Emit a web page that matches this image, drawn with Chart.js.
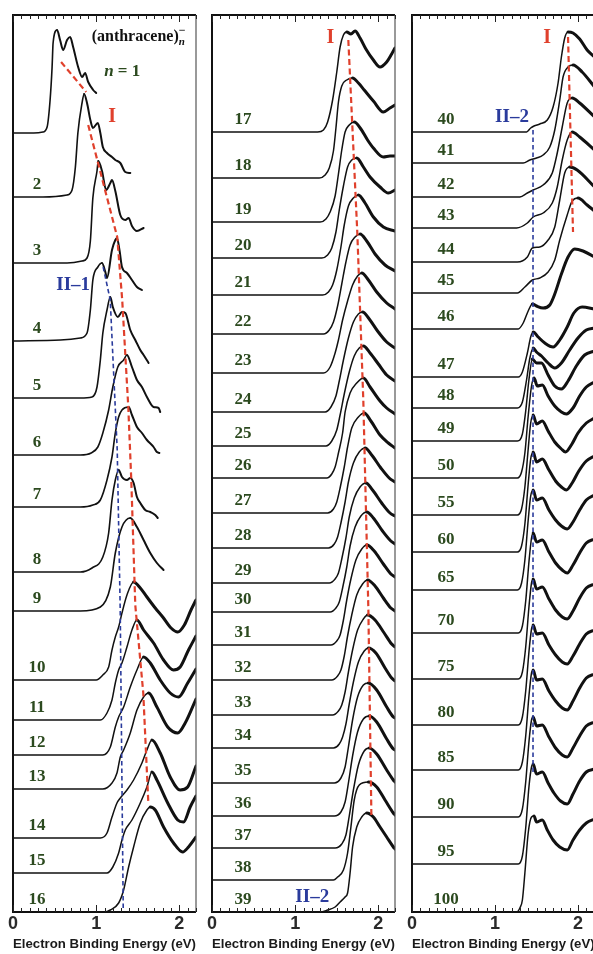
<!DOCTYPE html>
<html>
<head>
<meta charset="utf-8">
<script src="https://cdn.jsdelivr.net/npm/chart.js@4.4.1/dist/chart.umd.min.js"></script>
<style>
  html, body { margin: 0; padding: 0; background: #fff; overflow: hidden; width: 593px; height: 954px; }
  #wrap { position: relative; width: 593px; height: 954px; overflow: hidden; }
  canvas { position: absolute; top: 0; }
</style>
</head>
<body>
<div id="wrap">
  <canvas id="panelA" width="200" height="954" style="left:0px"></canvas>
  <canvas id="panelB" width="200" height="954" style="left:200px"></canvas>
  <canvas id="panelC" width="200" height="954" style="left:400px"></canvas>
</div>
<script>
// ---------------------------------------------------------------
// Photoelectron spectra of (anthracene)n- clusters.
// Each spectrum: [binding energy (eV), intensity (% of band maximum)].
// Spectra are stacked: offsets are the baseline of each trace.
// ---------------------------------------------------------------
const xTicks = [0, 1, 2];

// ---- panel A : n = 1 ... 16 ----
const sizesA = [1, 2, 3, 4, 5, 6, 7, 8, 9, 10, 11, 12, 13, 14, 15, 16];
const offsetsA = [779, 715, 649, 571, 514, 457, 405, 340, 301, 232, 192, 157, 123, 74, 39, 0];
const spectraA = [
  [[0,0],[0.25,0],[0.36,1],[0.41,6],[0.446,33],[0.47,66],[0.482,90],[0.53,103],[0.566,93],[0.602,83],[0.65,93],[0.687,96],[0.723,86],[0.783,66],[0.831,56],[0.867,60],[0.904,51],[0.964,43],[1.0,40]],
  [[0,0],[0.36,0],[0.65,2],[0.71,7],[0.75,30],[0.78,64],[0.83,94],[0.855,103],[0.89,94],[0.93,77],[0.96,69],[1.02,74],[1.05,64],[1.08,50],[1.13,44],[1.19,40],[1.23,37],[1.29,34],[1.35,25],[1.41,24]],
  [[0,0],[0.65,0],[0.83,2],[0.89,5],[0.93,22],[0.96,65],[1.01,92],[1.025,102],[1.07,92],[1.12,73],[1.17,80],[1.19,83],[1.23,72],[1.29,48],[1.35,43],[1.39,45],[1.43,37],[1.49,32],[1.57,35]],
  [[0,0],[0.57,1],[0.81,3],[0.89,8],[0.93,31],[0.96,61],[1.02,74],[1.07,78],[1.11,69],[1.13,63],[1.19,91],[1.23,101],[1.25,103],[1.28,91],[1.31,74],[1.37,68],[1.43,61],[1.49,54],[1.55,51]],
  [[0,0],[0.81,0],[0.95,1],[1.01,11],[1.05,38],[1.08,65],[1.13,88],[1.17,101],[1.2,91],[1.26,81],[1.31,86],[1.35,85],[1.41,68],[1.47,58],[1.53,48],[1.57,43],[1.63,35]],
  [[0,0],[0.81,0],[0.94,2],[1.02,8],[1.08,22],[1.15,45],[1.2,68],[1.26,88],[1.33,95],[1.37,100],[1.43,88],[1.49,75],[1.55,68],[1.61,58],[1.69,48],[1.75,47],[1.77,43]],
  [[0,0],[0.81,0],[0.96,2],[1.05,7],[1.13,27],[1.19,50],[1.23,74],[1.27,90],[1.31,97],[1.39,100],[1.43,92],[1.49,80],[1.55,74],[1.61,67],[1.69,60],[1.73,55],[1.76,54]],
  [[0,0],[0.81,0],[0.95,4],[1.08,15],[1.15,39],[1.19,72],[1.23,92],[1.27,102],[1.31,95],[1.37,92],[1.41,94],[1.45,89],[1.49,75],[1.53,69],[1.59,62],[1.65,60],[1.71,57],[1.74,54]],
  [[0,0],[0.81,0],[1.05,4],[1.17,24],[1.23,58],[1.31,84],[1.41,93],[1.49,84],[1.57,71],[1.65,58],[1.73,48],[1.81,41]],
  [[0,0],[1.0,0],[1.08,5],[1.15,13],[1.19,30],[1.23,43],[1.27,53],[1.31,67],[1.37,85],[1.45,98],[1.53,92],[1.61,83],[1.71,72],[1.8,63],[1.9,52],[1.98,48],[2.06,55],[2.14,70],[2.2,80]],
  [[0,0],[1.05,0],[1.13,7],[1.19,20],[1.23,37],[1.27,50],[1.31,57],[1.37,73],[1.43,90],[1.49,100],[1.57,90],[1.69,77],[1.81,60],[1.93,50],[2.01,53],[2.11,70],[2.2,84]],
  [[0,0],[1.08,0],[1.17,8],[1.23,28],[1.27,38],[1.33,48],[1.41,68],[1.49,85],[1.57,98],[1.65,92],[1.77,75],[1.89,62],[1.99,58],[2.1,72],[2.2,86]],
  [[0,0],[1.08,0],[1.19,6],[1.25,16],[1.29,32],[1.33,39],[1.41,56],[1.49,79],[1.57,92],[1.63,96],[1.73,82],[1.86,62],[1.98,56],[2.07,66],[2.2,90]],
  [[0,0],[1.05,0],[1.13,5],[1.19,21],[1.25,35],[1.29,40],[1.37,48],[1.45,58],[1.55,75],[1.61,88],[1.67,98],[1.77,85],[1.89,61],[2.01,48],[2.1,51],[2.2,72]],
  [[0,0],[1.13,0],[1.2,6],[1.27,20],[1.31,33],[1.35,43],[1.43,53],[1.53,70],[1.61,86],[1.67,101],[1.73,93],[1.86,70],[1.98,53],[2.05,51],[2.13,66],[2.2,77]],
  [[0,0],[1.1,0],[1.17,2],[1.27,9],[1.33,22],[1.39,45],[1.45,65],[1.53,89],[1.61,102],[1.65,105],[1.71,102],[1.81,85],[1.93,69],[2.04,60],[2.11,65],[2.2,75]]
];
// band positions traced through the stack (energy, stacked height)
const bandI_A_top = [[0.578, 850], [0.88, 820]];
const bandI_A = [[0.904, 787], [1.253, 675], [1.313, 612], [1.386, 505], [1.422, 432], [1.47, 307], [1.566, 219], [1.627, 109]];
const bandII1_A = [[1.084, 645], [1.169, 612], [1.253, 462], [1.289, 302], [1.325, 4]];

// ---- panel B : n = 17 ... 39 ----
const sizesB = [17, 18, 19, 20, 21, 22, 23, 24, 25, 26, 27, 28, 29, 30, 31, 32, 33, 34, 35, 36, 37, 38, 39];
const offsetsB = [780, 734, 690, 654, 617, 578, 539, 500, 466, 434, 399, 364, 329, 300, 267, 232, 197, 164, 129, 96, 64, 32, 0];
const spectraB = [
  [[0,0],[1.27,0],[1.34,2],[1.39,10],[1.45,32],[1.5,60],[1.54,85],[1.58,97],[1.62,100],[1.67,98],[1.72,101],[1.78,94],[1.85,83],[1.94,72],[2.02,65],[2.1,70],[2.16,78],[2.2,84]],
  [[0,0],[1.29,0],[1.36,3],[1.41,10],[1.46,27],[1.49,50],[1.52,76],[1.56,92],[1.62,98],[1.69,100],[1.76,95],[1.83,88],[1.94,77],[2.06,66],[2.14,70],[2.2,73]],
  [[0,0],[1.3,0],[1.37,3],[1.42,10],[1.48,26],[1.52,48],[1.56,72],[1.6,90],[1.65,97],[1.71,100],[1.79,93],[1.87,82],[1.94,74],[2.06,65],[2.14,66],[2.2,66]],
  [[0,0],[1.32,0],[1.39,3],[1.44,10],[1.49,26],[1.53,48],[1.58,72],[1.63,91],[1.68,98],[1.74,100],[1.82,91],[1.9,81],[2.02,71],[2.12,65],[2.2,68]],
  [[0,0],[1.33,0],[1.4,3],[1.45,10],[1.5,25],[1.55,48],[1.59,70],[1.64,89],[1.7,97],[1.76,100],[1.84,92],[1.94,78],[2.06,68],[2.2,64]],
  [[0,0],[1.34,0],[1.41,4],[1.46,12],[1.51,28],[1.56,50],[1.61,72],[1.66,89],[1.72,97],[1.78,100],[1.86,93],[1.96,80],[2.08,69],[2.2,63]],
  [[0,0],[1.34,0],[1.42,6],[1.48,20],[1.52,33],[1.57,53],[1.63,72],[1.69,88],[1.75,97],[1.8,100],[1.88,93],[1.98,81],[2.1,70],[2.2,64]],
  [[0,0],[1.36,0],[1.43,5],[1.49,16],[1.53,31],[1.58,52],[1.64,74],[1.7,90],[1.76,98],[1.81,100],[1.89,93],[1.99,81],[2.1,70],[2.2,64]],
  [[0,0],[1.37,0],[1.44,5],[1.5,16],[1.54,31],[1.59,52],[1.65,74],[1.71,90],[1.77,98],[1.82,100],[1.9,93],[2.0,82],[2.1,71],[2.2,65]],
  [[0,0],[1.38,0],[1.44,4],[1.48,11],[1.52,25],[1.57,45],[1.6,66],[1.66,85],[1.74,95],[1.82,100],[1.9,91],[2.02,77],[2.1,70],[2.2,64]],
  [[0,0],[1.39,0],[1.46,4],[1.5,11],[1.54,25],[1.59,46],[1.63,66],[1.68,85],[1.76,96],[1.83,100],[1.91,92],[2.02,78],[2.12,70],[2.2,65]],
  [[0,0],[1.4,0],[1.47,4],[1.51,11],[1.55,25],[1.6,46],[1.64,66],[1.7,85],[1.77,96],[1.84,100],[1.92,93],[2.03,80],[2.13,70],[2.2,66]],
  [[0,0],[1.41,0],[1.48,4],[1.52,10],[1.56,24],[1.61,45],[1.65,66],[1.71,85],[1.78,96],[1.85,100],[1.93,93],[2.04,80],[2.14,70],[2.2,67]],
  [[0,0],[1.42,0],[1.49,4],[1.53,10],[1.57,24],[1.62,45],[1.66,66],[1.72,85],[1.79,96],[1.86,100],[1.94,94],[2.05,81],[2.15,71],[2.2,68]],
  [[0,0],[1.43,0],[1.5,4],[1.54,10],[1.58,25],[1.62,45],[1.67,66],[1.73,85],[1.8,96],[1.86,100],[1.95,94],[2.06,81],[2.15,71],[2.2,68]],
  [[0,0],[1.44,0],[1.51,4],[1.55,10],[1.59,24],[1.63,44],[1.68,65],[1.74,85],[1.81,96],[1.87,100],[1.96,94],[2.06,82],[2.15,72],[2.2,69]],
  [[0,0],[1.45,0],[1.52,4],[1.56,10],[1.6,23],[1.64,43],[1.69,65],[1.75,85],[1.82,96],[1.87,100],[1.96,95],[2.07,82],[2.16,71],[2.2,68]],
  [[0,0],[1.46,0],[1.53,4],[1.57,11],[1.61,24],[1.65,44],[1.7,66],[1.76,86],[1.83,97],[1.88,100],[1.97,95],[2.08,80],[2.16,70],[2.2,67]],
  [[0,0],[1.47,0],[1.55,5],[1.6,16],[1.64,36],[1.69,63],[1.75,86],[1.82,98],[1.88,100],[1.98,93],[2.1,76],[2.18,66],[2.2,65]],
  [[0,0],[1.47,0],[1.55,4],[1.6,14],[1.64,33],[1.69,60],[1.75,84],[1.82,97],[1.89,100],[1.98,94],[2.1,77],[2.18,67],[2.2,66]],
  [[0,0],[1.48,0],[1.56,4],[1.61,13],[1.65,32],[1.7,58],[1.76,83],[1.83,97],[1.89,100],[1.98,94],[2.1,78],[2.18,68],[2.2,66]],
  [[0,0],[1.46,0],[1.51,3],[1.58,10],[1.63,27],[1.67,53],[1.71,80],[1.77,95],[1.88,98],[1.98,93],[2.08,80],[2.18,67],[2.2,65]],
  [[0,0],[1.3,0],[1.39,2],[1.48,5],[1.54,10],[1.6,15],[1.63,19],[1.66,39],[1.69,65],[1.74,85],[1.8,95],[1.86,99],[1.94,95],[2.02,85],[2.1,75],[2.18,65],[2.2,63]]
];
const bandI_B = [[1.639, 872], [1.747, 679], [1.819, 512], [1.88, 302], [1.916, 97]];

// ---- panel C : n = 40 ... 100 ----
const sizesC = [40, 41, 42, 43, 44, 45, 46, 47, 48, 49, 50, 55, 60, 65, 70, 75, 80, 85, 90, 95, 100];
const offsetsC = [780, 749, 715, 684, 650, 619, 583, 535, 504, 471, 434, 397, 360, 322, 279, 233, 187, 142, 95, 48, 0];
const spectraC = [
  [[0,0],[1.38,0],[1.43,4],[1.47,6],[1.54,8],[1.63,12],[1.7,25],[1.76,49],[1.8,75],[1.84,94],[1.88,100],[1.94,99],[2.02,93],[2.11,82],[2.2,75]],
  [[0,0],[1.34,0],[1.42,3],[1.5,5],[1.58,8],[1.66,16],[1.72,33],[1.78,63],[1.82,86],[1.88,96],[1.94,98],[2.05,91],[2.2,76]],
  [[0,0],[1.3,0],[1.39,4],[1.46,7],[1.58,12],[1.69,24],[1.75,44],[1.81,70],[1.87,94],[1.93,99],[2.02,94],[2.2,80]],
  [[0,0],[1.26,0],[1.39,5],[1.46,11],[1.58,15],[1.69,25],[1.75,41],[1.81,68],[1.87,88],[1.93,96],[2.02,91],[2.2,78]],
  [[0,0],[1.27,0],[1.39,5],[1.45,14],[1.54,15],[1.64,22],[1.72,35],[1.78,62],[1.84,89],[1.9,95],[1.99,92],[2.2,75]],
  [[0,0],[1.27,0],[1.36,6],[1.45,13],[1.54,15],[1.64,21],[1.72,33],[1.78,53],[1.87,78],[1.93,92],[2.0,95],[2.11,88],[2.2,82]],
  [[0,0],[1.28,0],[1.34,6],[1.4,18],[1.45,25],[1.5,23],[1.58,21],[1.66,24],[1.72,35],[1.8,55],[1.88,72],[1.96,80],[2.06,78],[2.2,72]],
  [[0,0],[1.28,0],[1.33,5],[1.39,24],[1.43,40],[1.46,45],[1.52,40],[1.6,34],[1.7,30],[1.78,37],[1.87,50],[1.95,64],[2.05,70],[2.2,68]],
  [[0,0],[1.27,0],[1.33,6],[1.38,28],[1.42,50],[1.46,60],[1.5,56],[1.56,52],[1.64,45],[1.72,40],[1.8,45],[1.9,58],[2.0,70],[2.1,78],[2.2,80]],
  [[0,0],[1.27,0],[1.33,7],[1.37,30],[1.41,62],[1.45,82],[1.5,78],[1.56,78],[1.64,66],[1.72,55],[1.8,52],[1.88,60],[1.98,75],[2.08,86],[2.2,90]],
  [[0,0],[1.27,0],[1.32,6],[1.36,25],[1.4,62],[1.44,92],[1.47,100],[1.51,92],[1.57,93],[1.64,82],[1.72,72],[1.8,66],[1.86,64],[1.94,70],[2.02,82],[2.1,91],[2.2,96]],
  [[0,0],[1.27,0],[1.32,6],[1.36,28],[1.4,66],[1.43,92],[1.46,100],[1.5,91],[1.57,94],[1.64,84],[1.72,73],[1.8,66],[1.85,63],[1.92,70],[2.0,82],[2.1,92],[2.2,97]],
  [[0,0],[1.27,0],[1.32,6],[1.36,28],[1.4,68],[1.43,93],[1.46,100],[1.5,90],[1.57,93],[1.65,82],[1.73,71],[1.8,65],[1.86,62],[1.93,69],[2.01,81],[2.1,91],[2.2,96]],
  [[0,0],[1.27,0],[1.32,7],[1.36,30],[1.4,70],[1.43,94],[1.46,100],[1.5,90],[1.57,92],[1.65,80],[1.73,70],[1.8,64],[1.87,61],[1.94,68],[2.02,80],[2.1,90],[2.2,95]],
  [[0,0],[1.28,0],[1.33,7],[1.37,32],[1.41,72],[1.44,95],[1.46,100],[1.5,91],[1.57,93],[1.65,81],[1.73,70],[1.81,63],[1.87,60],[1.94,68],[2.02,80],[2.1,90],[2.2,94]],
  [[0,0],[1.28,0],[1.33,7],[1.37,32],[1.41,73],[1.44,96],[1.46,100],[1.5,90],[1.57,92],[1.65,80],[1.73,69],[1.81,62],[1.87,60],[1.94,68],[2.02,81],[2.1,91],[2.2,95]],
  [[0,0],[1.28,0],[1.33,8],[1.37,34],[1.41,74],[1.44,96],[1.46,100],[1.5,91],[1.57,92],[1.65,80],[1.73,70],[1.81,63],[1.87,61],[1.94,69],[2.02,81],[2.1,91],[2.2,95]],
  [[0,0],[1.28,0],[1.33,8],[1.37,34],[1.41,75],[1.44,97],[1.46,100],[1.5,90],[1.57,91],[1.65,79],[1.73,69],[1.81,62],[1.87,60],[1.94,69],[2.02,82],[2.1,92],[2.2,96]],
  [[0,0],[1.28,0],[1.33,8],[1.37,35],[1.41,76],[1.44,97],[1.46,100],[1.5,91],[1.57,92],[1.65,80],[1.73,69],[1.81,62],[1.87,60],[1.94,69],[2.02,81],[2.1,91],[2.2,95]],
  [[0,0],[1.28,0],[1.33,8],[1.37,36],[1.41,78],[1.44,97],[1.46,100],[1.5,90],[1.57,92],[1.64,81],[1.71,71],[1.79,63],[1.87,60],[1.94,70],[2.02,83],[2.1,92],[2.2,95]],
  [[0,0],[1.26,0],[1.3,4],[1.33,12],[1.36,39],[1.4,79],[1.44,95],[1.47,96],[1.5,90],[1.57,92],[1.63,82],[1.7,72],[1.78,65],[1.87,62],[1.94,72],[2.02,82],[2.1,89],[2.2,93]]
];
const bandI_C = [[1.88, 875], [1.94, 680]];
const bandII2_C = [[1.458, 782], [1.458, 137]];

// ---------------------------------------------------------------
// styling and drawing
// ---------------------------------------------------------------
const SERIF = '"Liberation Serif", "Times New Roman", serif';
const SANS = '"Liberation Sans", Arial, sans-serif';
const GREEN = '#2c4a1f';
const RED = '#e0402c';
const BLUE = '#2a3b9c';
const LABEL_RISE = 12;   // size labels sit just above each baseline

function firstPeakEnergy(points) {
  for (let k = 1; k < points.length - 1; k++) {
    const i = points[k][1];
    if (i > 20 && i >= points[k - 1][1] && i > points[k + 1][1]) return points[k][0];
  }
  return Infinity;
}

// a trace: thin on the flat onset, heavier over the noisy high-energy part
function spectrumDataset(points, offset, thin, heavy) {
  const tailFrom = firstPeakEnergy(points);
  return {
    data: points.map(([e, i]) => ({ x: e, y: offset + i })),
    borderColor: '#111',
    borderWidth: thin,
    pointRadius: 0,
    fill: false,
    cubicInterpolationMode: 'monotone',
    borderJoinStyle: 'round',
    borderCapStyle: 'round',
    order: 2,
    segment: { borderWidth: c => (c.p0.parsed.x >= tailFrom ? heavy : thin) }
  };
}

function guideDataset(points, color, width, dash) {
  return {
    data: points.map(([e, v]) => ({ x: e, y: v })),
    borderColor: color,
    borderWidth: width,
    borderDash: dash,
    pointRadius: 0,
    tension: 0,
    fill: false,
    order: 0
  };
}

function drawRuns(ctx, runs, cx, cy, color) {
  ctx.fillStyle = color;
  ctx.textBaseline = 'middle';
  ctx.textAlign = 'left';
  let total = 0;
  runs.forEach(r => { ctx.font = r[1]; total += ctx.measureText(r[0]).width; });
  let x = cx - total / 2;
  runs.forEach(r => { ctx.font = r[1]; ctx.fillText(r[0], x, cy); x += ctx.measureText(r[0]).width; });
}

const panelPlugin = {
  id: 'panelDecor',
  afterDatasetsDraw(chart) {
    const cfg = chart.config.options.plugins.panelDecor;
    const { ctx, chartArea: a, scales: { x, y } } = chart;
    ctx.save();

    // frame
    ctx.strokeStyle = '#111';
    ctx.lineWidth = 2;
    ctx.beginPath();
    ctx.moveTo(a.right, a.top); ctx.lineTo(a.left, a.top); ctx.lineTo(a.left, a.bottom); ctx.lineTo(a.right, a.bottom);
    ctx.stroke();
    ctx.strokeStyle = '#555';
    ctx.lineWidth = 1.2;
    ctx.beginPath(); ctx.moveTo(a.right, a.top); ctx.lineTo(a.right, a.bottom); ctx.stroke();

    // inward tick marks every 0.1 eV, longer at whole eV
    ctx.strokeStyle = '#222';
    ctx.lineWidth = 1;
    for (let k = 0; k <= 22; k++) {
      const px = Math.round(x.getPixelForValue(k / 10)) + 0.5;
      const len = k % 10 === 0 ? 7 : 4;
      ctx.beginPath();
      ctx.moveTo(px, a.top); ctx.lineTo(px, a.top + len);
      ctx.moveTo(px, a.bottom); ctx.lineTo(px, a.bottom - len);
      ctx.stroke();
    }

    // cluster size labels
    const numFont = 'bold 17px ' + SERIF;
    cfg.sizes.forEach((n, k) => {
      if (n === 1) return;
      const cx = x.getPixelForValue(cfg.labelE);
      const cy = y.getPixelForValue(cfg.offsets[k] + LABEL_RISE);
      drawRuns(ctx, [[String(n), numFont]], cx, cy, GREEN);
    });

    // band and annotation texts
    cfg.notes.forEach(nt => {
      drawRuns(ctx, nt.runs, x.getPixelForValue(nt.e), y.getPixelForValue(nt.v), nt.color);
    });

    if (cfg.species) {
      const s = cfg.species;
      const main = '(anthracene)';
      ctx.font = 'bold 16px ' + SERIF;
      const w = ctx.measureText(main).width;
      ctx.font = 'italic bold 11px ' + SERIF;
      const ws = ctx.measureText('n').width;
      const cx = x.getPixelForValue(s.e) - (w + ws) / 2;
      const cy = y.getPixelForValue(s.v);
      ctx.fillStyle = '#111';
      ctx.textAlign = 'left';
      ctx.textBaseline = 'middle';
      ctx.font = 'bold 16px ' + SERIF;
      ctx.fillText(main, cx, cy);
      ctx.font = 'italic bold 11px ' + SERIF;
      ctx.fillText('n', cx + w, cy + 5);
      ctx.font = 'bold 12px ' + SERIF;
      ctx.fillText('\u2212', cx + w, cy - 6);
    }
    ctx.restore();
  }
};

function makePanel(id, p) {
  const datasets = [];
  p.guides.forEach(g => datasets.push(guideDataset(g.points, g.color, g.width, g.dash)));
  p.spectra.forEach((pts, k) => {
    const w = p.widths(p.sizes[k]);
    datasets.push(spectrumDataset(pts, p.offsets[k], w[0], w[1]));
  });
  return new Chart(document.getElementById(id), {
    type: 'line',
    data: { datasets },
    options: {
      responsive: false,
      devicePixelRatio: 1,
      animation: false,
      layout: { padding: { left: p.padL, right: p.padR, top: 15, bottom: 0 } },
      plugins: {
        legend: { display: false },
        tooltip: { enabled: false },
        panelDecor: { sizes: p.sizes, offsets: p.offsets, labelE: p.labelE, notes: p.notes, species: p.species }
      },
      scales: {
        x: {
          type: 'linear', min: 0, max: 2.2,
          afterBuildTicks: s => { s.ticks = xTicks.map(v => ({ value: v })); },
          grid: { display: false, drawTicks: false },
          border: { display: false },
          ticks: { font: { family: SANS, size: 18, weight: 'bold' }, color: '#2a2a2a', padding: 1, maxRotation: 0, autoSkip: false },
          title: { display: true, text: 'Electron Binding Energy (eV)', font: { family: SANS, size: 13.5, weight: 'bold' }, color: '#1a1a1a', padding: { top: 0, bottom: 2 } },
          afterFit: s => { s.height = 42; }
        },
        y: { type: 'linear', min: 0, max: 897, display: false }
      }
    },
    plugins: [panelPlugin]
  });
}

const redDash = [6, 3.5];
const blueDash = [4.5, 3];

makePanel('panelA', {
  sizes: sizesA, offsets: offsetsA, spectra: spectraA, labelE: 0.289, padL: 13, padR: 4,
  widths: n => (n >= 10 ? [1.5, 3.0] : [1.6, 2.0]),
  guides: [
    { points: bandI_A_top, color: RED, width: 2.2, dash: redDash },
    { points: bandI_A, color: RED, width: 2.2, dash: redDash },
    { points: bandII1_A, color: BLUE, width: 1.6, dash: blueDash }
  ],
  notes: [
    { runs: [['I', 'bold 20px ' + SERIF]], color: RED, e: 1.193, v: 795 },
    { runs: [['II\u20131', 'bold 19px ' + SERIF]], color: BLUE, e: 0.723, v: 627 },
    { runs: [['n', 'italic bold 17px ' + SERIF], [' = 1', 'bold 17px ' + SERIF]], color: GREEN, e: 1.313, v: 840 }
  ],
  species: { e: 1.506, v: 875 }
});

makePanel('panelB', {
  sizes: sizesB, offsets: offsetsB, spectra: spectraB, labelE: 0.373, padL: 12, padR: 5,
  widths: () => [1.5, 3.0],
  guides: [{ points: bandI_B, color: RED, width: 2.2, dash: redDash }],
  notes: [
    { runs: [['I', 'bold 20px ' + SERIF]], color: RED, e: 1.422, v: 874 },
    { runs: [['II\u20132', 'bold 19px ' + SERIF]], color: BLUE, e: 1.205, v: 15 }
  ]
});

makePanel('panelC', {
  sizes: sizesC, offsets: offsetsC, spectra: spectraC, labelE: 0.41, padL: 12, padR: 5.4,
  widths: () => [1.5, 3.0],
  guides: [
    { points: bandI_C, color: RED, width: 2.2, dash: redDash },
    { points: bandII2_C, color: BLUE, width: 1.6, dash: blueDash }
  ],
  notes: [
    { runs: [['I', 'bold 20px ' + SERIF]], color: RED, e: 1.627, v: 874 },
    { runs: [['II\u20132', 'bold 19px ' + SERIF]], color: BLUE, e: 1.205, v: 795 }
  ]
});
</script>
</body>
</html>
